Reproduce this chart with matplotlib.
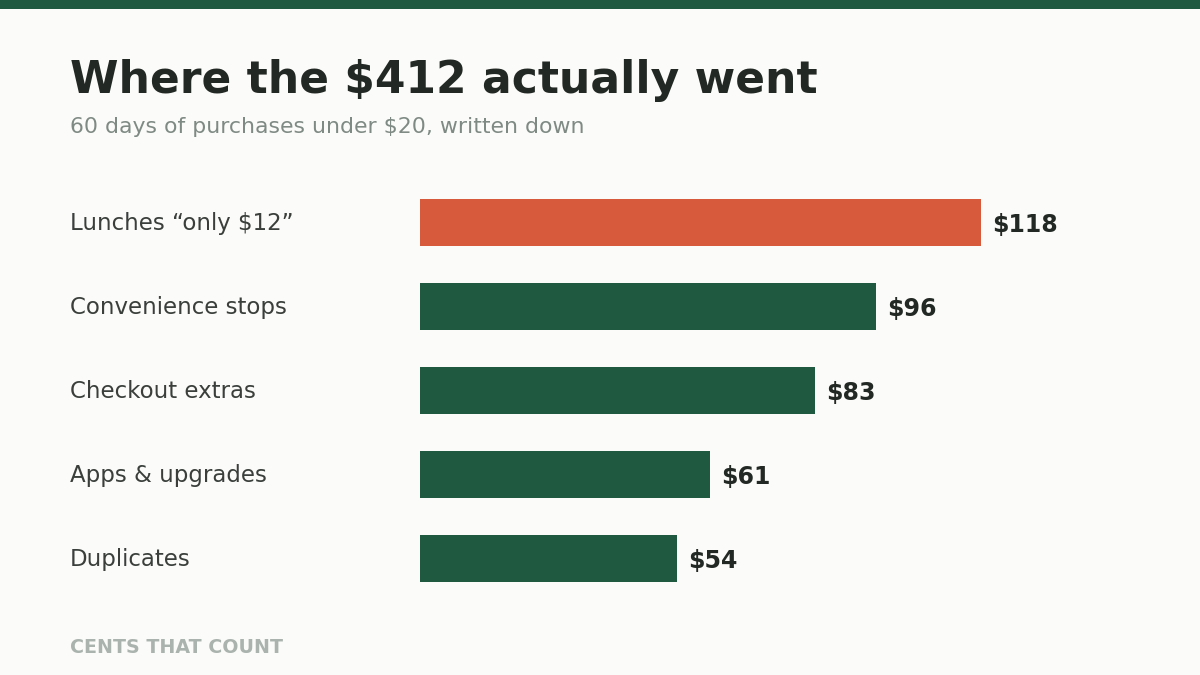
#!/usr/bin/env python3
"""Horizontal bar chart: where the small purchases went."""
import matplotlib
matplotlib.use('Agg')
import matplotlib.pyplot as plt
import matplotlib.transforms as mtransforms
from matplotlib.patches import Rectangle

categories = ['Lunches \u201conly $12\u201d', 'Convenience stops', 'Checkout extras',
              'Apps & upgrades', 'Duplicates']
amounts = [118, 96, 83, 61, 54]
value_labels = ['$118', '$96', '$83', '$61', '$54']
highlight = [True, False, False, False, False]

BG = '#fbfbf9'
GREEN = '#1f5a40'
RED = '#d75a3c'
DARK = '#222824'
LABEL = '#3a3f3c'
SUB = '#7f8a84'
FOOT = '#aab3ae'

W, H = 1200, 675
fig = plt.figure(figsize=(12, 6.75), dpi=100)
fig.patch.set_facecolor(BG)

# top stripe
fig.add_artist(Rectangle((0, 1 - 9 / H), 1, 9 / H, transform=fig.transFigure,
                         facecolor=GREEN, edgecolor='none'))

# bars area: 420px left, ~4.754 px per dollar
ax = fig.add_axes([420 / W, 1 - 600.5 / H, 0.5944, 420 / H])
ax.set_facecolor('none')
ypos = list(range(len(categories)))
colors = [RED if h else GREEN for h in highlight]
ax.barh(ypos, amounts, height=0.56, color=colors, edgecolor='none')
ax.set_xlim(0, 150)
ax.set_ylim(4.5, -0.5)
ax.axis('off')

for y, v, lab in zip(ypos, amounts, value_labels):
    ax.annotate(lab, (v, y), xytext=(11, -2), textcoords='offset pixels',
                ha='left', va='center', fontsize=17, fontweight='bold', color=DARK)

trans = mtransforms.blended_transform_factory(fig.transFigure, ax.transData)
off = mtransforms.ScaledTranslation(0, -1 / 100, fig.dpi_scale_trans)
for y, cat in zip(ypos, categories):
    ax.text(70 / W, y, cat, transform=trans + off, ha='left', va='center',
            fontsize=16.5, color=LABEL)

fig.text(70 / W, 1 - 80 / H, 'Where the $412 actually went', ha='left', va='center',
         fontsize=31.7, fontweight='bold', color=DARK)
fig.text(70 / W, 1 - 127 / H, '60 days of purchases under $20, written down',
         ha='left', va='center', fontsize=15.8, color=SUB)
fig.text(70 / W, 1 - 647.5 / H, 'CENTS THAT COUNT', ha='left', va='center',
         fontsize=13.7, fontweight='bold', color=FOOT)

fig.savefig('out.png', dpi=100, facecolor=BG)
